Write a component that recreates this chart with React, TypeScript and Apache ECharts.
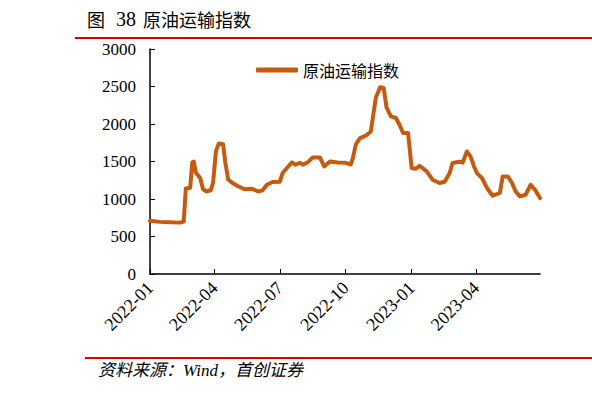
import React, { useEffect, useRef } from "react";
import * as echarts from "echarts";

const seriesName = "原油运输指数";
const dates: string[] = [
  "2022-01-01","2022-01-15","2022-01-29","2022-02-12","2022-02-17","2022-02-20","2022-02-26","2022-03-01","2022-03-03","2022-03-06",
  "2022-03-12","2022-03-16","2022-03-21","2022-03-27","2022-03-30","2022-04-03","2022-04-07","2022-04-13","2022-04-16","2022-04-20",
  "2022-04-25","2022-05-04","2022-05-13","2022-05-23","2022-06-01","2022-06-07","2022-06-13","2022-06-21","2022-07-01","2022-07-05",
  "2022-07-11","2022-07-18","2022-07-23","2022-07-29","2022-08-02","2022-08-09","2022-08-16","2022-08-26","2022-09-01","2022-09-09",
  "2022-09-20","2022-09-30","2022-10-08","2022-10-11","2022-10-15","2022-10-21","2022-10-29","2022-11-05","2022-11-12","2022-11-18",
  "2022-11-23","2022-11-27","2022-12-03","2022-12-10","2022-12-15","2022-12-20","2022-12-27","2023-01-01","2023-01-07","2023-01-12",
  "2023-01-22","2023-01-30","2023-02-09","2023-02-16","2023-02-23","2023-02-27","2023-03-09","2023-03-13","2023-03-19","2023-03-24",
  "2023-03-29","2023-04-02","2023-04-09","2023-04-16","2023-04-24","2023-05-04","2023-05-08","2023-05-15","2023-05-21","2023-05-26",
  "2023-06-01","2023-06-09","2023-06-16","2023-06-22","2023-06-29"
];
const values: number[] = [
  710,695,690,685,700,1140,1150,1490,1500,1350,
  1280,1130,1100,1120,1220,1640,1740,1730,1490,1260,
  1220,1170,1130,1137,1100,1115,1190,1226,1230,1346,
  1413,1488,1457,1484,1457,1488,1554,1554,1434,1501,
  1488,1484,1460,1546,1724,1813,1844,1901,2350,2490,
  2480,2217,2101,2080,1990,1880,1880,1413,1404,1444,
  1368,1257,1213,1230,1346,1480,1497,1484,1634,1568,
  1434,1346,1280,1147,1044,1080,1301,1301,1213,1101,
  1035,1057,1190,1124,1013
];
const yTicks = { min: 0, max: 3000, interval: 500 };
const quarterMonths = ["01", "04", "07", "10"];

function buildDays(start: string, end: string): string[] {
  const out: string[] = [];
  const s = new Date(start + "T00:00:00Z");
  const e = new Date(end + "T00:00:00Z");
  for (let d = s; d <= e; d = new Date(d.getTime() + 86400000)) {
    out.push(d.toISOString().slice(0, 10));
  }
  return out;
}

export default function App() {
  const ref = useRef<HTMLDivElement>(null);
  useEffect(() => {
    if (!ref.current) return;
    const chart = echarts.init(ref.current, null, { renderer: "svg" });
    const days = buildDays(dates[0], dates[dates.length - 1]);
    const map: Record<string, number> = {};
    dates.forEach((d, i) => (map[d] = values[i]));
    const full = days.map((d) => (d in map ? map[d] : null));
    const isQuarter = (_i: number, v: string) =>
      v.slice(8) === "01" && quarterMonths.includes(v.slice(5, 7));
    const serif = "Liberation Serif, Noto Sans CJK SC, serif";
    chart.setOption({
      animation: false,
      backgroundColor: "#fff",
      grid: { left: 150, right: 52, top: 49, bottom: 119, containLabel: false },
      legend: {
        data: [seriesName],
        left: 251,
        top: 57,
        icon: "roundRect",
        itemWidth: 42,
        itemHeight: 5,
        itemGap: 6,
        textStyle: { fontSize: 16, color: "#000", fontFamily: "Noto Sans CJK SC" },
      },
      xAxis: {
        type: "category",
        data: days,
        boundaryGap: false,
        axisLine: { lineStyle: { color: "#000", width: 1.5 } },
        axisTick: { inside: true, length: 5, interval: isQuarter, lineStyle: { color: "#000" } },
        axisLabel: {
          interval: isQuarter,
          rotate: 45,
          margin: 11,
          fontSize: 18,
          color: "#000",
          fontFamily: serif,
          formatter: (v: string) => v.slice(0, 7),
        },
        splitLine: { show: false },
      },
      yAxis: {
        type: "value",
        min: yTicks.min,
        max: yTicks.max,
        interval: yTicks.interval,
        axisLine: { show: true, lineStyle: { color: "#000", width: 1.5 } },
        axisTick: { show: true, inside: true, length: 5, lineStyle: { color: "#000" } },
        axisLabel: {
          fontSize: 17,
          color: "#000",
          margin: 14,
          fontFamily: serif,
          formatter: (v: number) => String(v),
        },
        splitLine: { show: false },
      },
      series: [
        {
          name: seriesName,
          type: "line",
          data: full,
          connectNulls: true,
          showSymbol: false,
          symbol: "none",
          lineStyle: { color: "#C55A11", width: 4, cap: "round", join: "round" },
          itemStyle: { color: "#C55A11" },
        },
      ],
      graphic: [
        {
          type: "text",
          left: 87,
          top: 10,
          style: { text: "图", fontSize: 18, fill: "#000", fontFamily: "Noto Sans CJK SC" },
        },
        {
          type: "text",
          left: 116,
          top: 9,
          style: { text: "38", fontSize: 20, fill: "#000", fontFamily: serif },
        },
        {
          type: "text",
          left: 143,
          top: 10,
          style: { text: "原油运输指数", fontSize: 18, fill: "#000", fontFamily: "Noto Sans CJK SC" },
        },
        {
          type: "line",
          shape: { x1: 75, y1: 38, x2: 592, y2: 38 },
          style: { stroke: "#E00000", lineWidth: 2 },
        },
        {
          type: "line",
          shape: { x1: 85, y1: 358, x2: 592, y2: 358 },
          style: { stroke: "#E00000", lineWidth: 2 },
        },
        {
          type: "text",
          left: 98,
          top: 362,
          style: {
            text: "资料来源：Wind，首创证券",
            fontSize: 17,
            fontStyle: "italic",
            fill: "#000",
            fontFamily: serif,
          },
        },
      ],
    });
    return () => chart.dispose();
  }, []);
  return (
    <div
      ref={ref}
      style={{ position: "fixed", left: 0, top: 0, width: 592, height: 393, background: "#fff" }}
    />
  );
}
